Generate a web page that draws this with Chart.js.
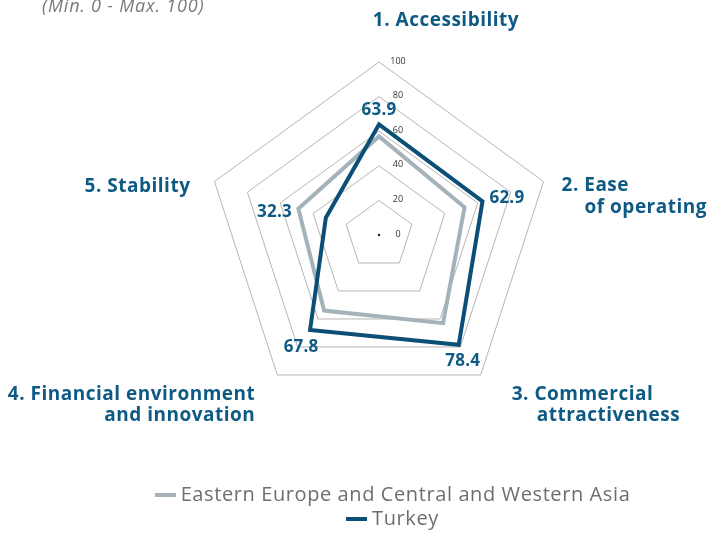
<!DOCTYPE html>
<html lang="en">
<head>
    <meta charset="UTF-8">
    <title>Radar</title>
    <style>
        html, body { margin: 0; padding: 0; background: #fff; }
        .wrap { position: relative; width: 711px; height: 533px; overflow: hidden; font-family: "Open Sans", sans-serif; }
        #radar { position: absolute; left: 0; top: 0; }
        .note { position: absolute; left: 42px; top: -7px; font-size: 18px; letter-spacing: 0.8px; font-style: italic; color: #7a7a7a; }
        #legend { position: absolute; left: 37px; width: 711px; top: 482px; text-align: center; font-size: 20px; letter-spacing: 0.6px; color: #6d6e71; line-height: 24px; }
        #legend .sw { display: inline-block; width: 21px; height: 4px; margin-right: 5px; vertical-align: middle; position: relative; top: -1px; }
    </style>
</head>
<body>
<div class="wrap">
    <canvas id="radar" width="711" height="533"></canvas>
    <div class="note">(Min. 0 - Max. 100)</div>
    <div id="legend"></div>
</div>

<script src="https://cdn.jsdelivr.net/npm/chart.js"></script>
<script>
    const categories = [
        ['1. Accessibility'],
        ['2. Ease', 'of operating'],
        ['3. Commercial', 'attractiveness'],
        ['4. Financial environment', 'and innovation'],
        ['5. Stability']
    ];
    const regionValues = [57, 52, 63, 54, 49];
    const turkeyValues = [63.9, 62.9, 78.4, 67.8, 32.3];
    const seriesNames = ['Eastern Europe and Central and Western Asia', 'Turkey'];
    const tickValues = [0, 20, 40, 60, 80, 100];

    const blue = '#0b4f76';
    const grey = '#a4b2b9';
    const labelBlue = '#0f5a84';

    // offsets of the category labels from each axis end: [align, dx, dy per line]
    const catPlace = [
        { align: 'center', lines: [[67, -41]] },
        { align: 'left', lines: [[18, 4], [41, 26]] },
        { align: 'left', lines: [[31, 20], [56, 41]] },
        { align: 'right', lines: [[-22, 20], [-22, 41]] },
        { align: 'right', lines: [[-24, 5]] }
    ];
    // offsets of the Turkey value labels from their points
    const valPlace = [
        { align: 'center', dx: 0, dy: -14 },
        { align: 'left', dx: 7, dy: -3 },
        { align: 'center', dx: 4, dy: 16 },
        { align: 'center', dx: -9, dy: 17 },
        { align: 'right', dx: -34, dy: -6 }
    ];

    const extras = {
        id: 'extras',
        afterDraw(chart) {
            const ctx = chart.ctx;
            const r = chart.scales.r;
            ctx.save();
            // tick labels
            ctx.font = '9px "Open Sans"';
            ctx.fillStyle = '#333';
            ctx.textAlign = 'center';
            ctx.textBaseline = 'middle';
            tickValues.forEach(v => {
                const d = r.getDistanceFromCenterForValue(v);
                ctx.fillText(String(v), r.xCenter + 19, r.yCenter - d - 1);
            });
            ctx.beginPath();
            ctx.arc(r.xCenter, r.yCenter, 1.2, 0, Math.PI * 2);
            ctx.fillStyle = '#222';
            ctx.fill();

            // category labels
            ctx.font = 'bold 19px "Open Sans"';
            ctx.letterSpacing = '0.5px';
            ctx.fillStyle = labelBlue;
            categories.forEach((lines, i) => {
                const p = r.getPointPosition(i, r.drawingArea);
                const pl = catPlace[i];
                ctx.textAlign = pl.align;
                lines.forEach((t, j) => {
                    ctx.fillText(t, p.x + pl.lines[j][0], p.y + pl.lines[j][1]);
                });
            });

            // value labels for Turkey
            const meta = chart.getDatasetMeta(1);
            ctx.font = 'bold 17px "Open Sans"';
            ctx.letterSpacing = '0.2px';
            meta.data.forEach((pt, i) => {
                const vp = valPlace[i];
                ctx.textAlign = vp.align;
                ctx.fillText(turkeyValues[i].toFixed(1), pt.x + vp.dx, pt.y + vp.dy);
            });
            ctx.restore();
        }
    };

    const chart = new Chart(document.getElementById('radar'), {
        type: 'radar',
        data: {
            labels: categories,
            datasets: [
                { label: seriesNames[0], data: regionValues, borderColor: grey, borderWidth: 4, fill: false, pointRadius: 0, order: 1 },
                { label: seriesNames[1], data: turkeyValues, borderColor: blue, borderWidth: 4, fill: false, pointRadius: 0, order: 0 }
            ]
        },
        options: {
            responsive: false,
            animation: false,
            layout: { padding: { left: 206, right: 159, top: 62, bottom: 125 } },
            elements: { line: { tension: 0, borderJoinStyle: 'miter' } },
            plugins: { legend: { display: false }, tooltip: { enabled: false } },
            scales: {
                r: {
                    min: 0, max: 100,
                    ticks: { stepSize: 20, display: false, showLabelBackdrop: false },
                    grid: { color: '#b5b5b5', lineWidth: 1 },
                    angleLines: { display: false },
                    pointLabels: { display: false }
                }
            }
        },
        plugins: [extras]
    });

    const leg = document.getElementById('legend');
    [[seriesNames[0], grey], [seriesNames[1], blue]].forEach(([name, col]) => {
        const row = document.createElement('div');
        const sw = document.createElement('span');
        sw.className = 'sw';
        sw.style.background = col;
        row.appendChild(sw);
        row.appendChild(document.createTextNode(name));
        leg.appendChild(row);
    });
</script>
</body>
</html>
